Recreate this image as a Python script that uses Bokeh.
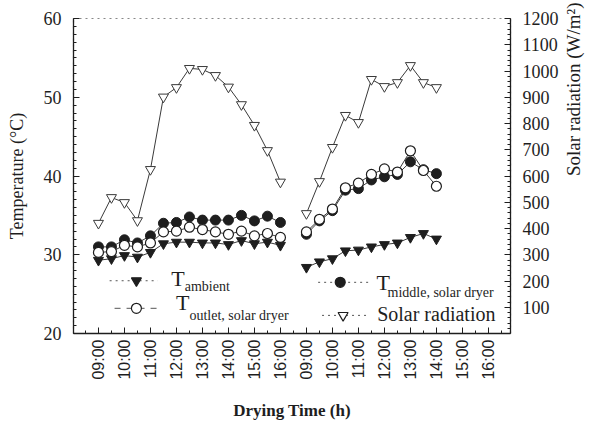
import math
from bokeh.plotting import figure
from bokeh.models import Range1d, LinearAxis, FixedTicker, Label
from bokeh.embed import file_html
from bokeh.resources import INLINE

# ---------------- data ----------------
hour_labels = ["09:00", "10:00", "11:00", "12:00", "13:00", "14:00", "15:00", "16:00"]
axis_tick_labels = hour_labels + hour_labels  # day 1 then day 2

day1_times = ["09:00", "09:30", "10:00", "10:30", "11:00", "11:30", "12:00", "12:30",
              "13:00", "13:30", "14:00", "14:30", "15:00", "15:30", "16:00"]
day2_times = ["09:00", "09:30", "10:00", "10:30", "11:00", "11:30", "12:00", "12:30",
              "13:00", "13:30", "14:00"]

day1_ambient = [29.3, 29.5, 29.9, 29.7, 30.3, 31.4, 31.6, 31.6, 31.5, 31.5, 31.3, 31.8, 31.4, 31.6, 31.2]
day1_middle = [31.0, 31.0, 31.9, 31.5, 32.4, 34.0, 34.1, 34.8, 34.4, 34.4, 34.4, 35.0, 34.3, 34.9, 34.1]
day1_outlet = [30.3, 30.4, 31.2, 31.0, 31.5, 32.9, 33.0, 33.5, 33.2, 32.9, 32.6, 33.0, 32.4, 32.7, 32.2]
day1_solar = [420, 518, 499, 430, 625, 901, 937, 1010, 1006, 983, 939, 872, 793, 697, 577]

day2_ambient = [28.4, 29.1, 29.5, 30.5, 30.6, 31.0, 31.3, 31.5, 32.2, 32.7, 32.0]
day2_middle = [32.6, 34.3, 35.6, 38.2, 38.4, 39.5, 39.9, 40.2, 41.8, 40.8, 40.3]
day2_outlet = [32.9, 34.5, 35.8, 38.5, 39.1, 40.2, 40.9, 40.5, 43.2, 40.7, 38.7]
day2_solar = [457, 579, 709, 831, 804, 968, 941, 956, 1021, 956, 937]


def to_pos(t, day):
    h, m = t.split(":")
    return (day * len(hour_labels)) + (int(h) - 9) + int(m) / 60.0


x1 = [to_pos(t, 0) for t in day1_times]
x2 = [to_pos(t, 1) for t in day2_times]

SERIF = "Liberation Serif"
SANS = "Liberation Sans"
INK = "#1e1e1e"
LINE = "#3a3a3a"

p = figure(width=598, height=422, output_backend="svg", toolbar_location=None,
           x_range=Range1d(-0.96, 15.85), y_range=Range1d(20, 60),
           min_border_left=73, min_border_right=88, min_border_top=18, min_border_bottom=89)
p.extra_y_ranges = {"rad": Range1d(0, 1200)}
p.xgrid.visible = False
p.ygrid.visible = False
p.outline_line_color = "#888888"
p.outline_line_dash = "dotted"
p.outline_line_width = 1.2
p.background_fill_color = "white"
p.border_fill_color = "white"

# x axis
xa = p.xaxis[0]
xa.ticker = FixedTicker(ticks=list(range(len(axis_tick_labels))),
                        minor_ticks=[i * 0.5 - 0.5 for i in range(2 * len(axis_tick_labels) + 2)])
xa.major_label_overrides = {i: lab for i, lab in enumerate(axis_tick_labels)}
xa.major_label_orientation = math.pi / 2
xa.major_label_text_font = SANS
xa.major_label_text_font_size = "16px"
xa.major_label_text_color = INK
xa.major_label_standoff = 6
xa.major_tick_in = 6
xa.major_tick_out = 0
xa.minor_tick_in = 3
xa.minor_tick_out = 0
xa.axis_line_color = INK
xa.axis_line_width = 1.3
xa.major_tick_line_color = INK
xa.minor_tick_line_color = INK
xa.axis_label = "Drying Time (h)"
xa.axis_label_text_font = SERIF
xa.axis_label_text_font_style = "bold"
xa.axis_label_text_font_size = "17px"
xa.axis_label_text_color = INK
xa.axis_label_standoff = 18

# left axis
ya = p.yaxis[0]
ya.ticker = FixedTicker(ticks=[20, 30, 40, 50, 60], minor_ticks=list(range(20, 61)))
ya.major_label_text_font = SERIF
ya.major_label_text_font_size = "18px"
ya.major_label_text_color = INK
ya.major_label_standoff = 12
ya.major_tick_in = 6
ya.major_tick_out = 0
ya.minor_tick_in = 3
ya.minor_tick_out = 0
ya.axis_line_color = INK
ya.axis_line_width = 1.3
ya.major_tick_line_color = INK
ya.minor_tick_line_color = INK
ya.axis_label = "Temperature (\u00b0C)"
ya.axis_label_text_font = SERIF
ya.axis_label_text_font_style = "normal"
ya.axis_label_text_font_size = "18px"
ya.axis_label_text_color = INK
ya.axis_label_standoff = 14

# right axis
ra = LinearAxis(y_range_name="rad",
                ticker=FixedTicker(ticks=list(range(100, 1201, 100)),
                                   minor_ticks=list(range(0, 1201, 20))))
ra.major_label_text_font = SERIF
ra.major_label_text_font_size = "18px"
ra.major_label_text_color = INK
ra.major_label_standoff = 12
ra.major_tick_in = 6
ra.major_tick_out = 0
ra.minor_tick_in = 3
ra.minor_tick_out = 0
ra.axis_line_color = INK
ra.axis_line_width = 1.3
ra.major_tick_line_color = INK
ra.minor_tick_line_color = INK
ra.axis_label = "Solar radiation (W/m\u00b2)"
ra.axis_label_text_font = SERIF
ra.axis_label_text_font_style = "normal"
ra.axis_label_text_font_size = "19px"
ra.axis_label_text_color = INK
ra.axis_label_standoff = 12
ra.axis_label_orientation = math.pi / 2
p.add_layout(ra, "right")

MS = 10

for xs, amb, mid, out, sol in [(x1, day1_ambient, day1_middle, day1_outlet, day1_solar),
                               (x2, day2_ambient, day2_middle, day2_outlet, day2_solar)]:
    # solar radiation (right axis)
    p.line(xs, sol, y_range_name="rad", line_color=LINE, line_width=1)
    p.scatter(xs, sol, y_range_name="rad", marker="inverted_triangle", size=MS,
              fill_color="white", line_color=LINE, line_width=1)
    # temperatures
    p.line(xs, amb, line_color=LINE, line_width=1)
    p.line(xs, out, line_color=LINE, line_width=1)
    p.line(xs, mid, line_color=LINE, line_width=1)
    p.scatter(xs, amb, marker="inverted_triangle", size=MS, fill_color=INK, line_color=INK)
    p.scatter(xs, mid, marker="circle", size=MS, fill_color=INK, line_color=INK)
    p.scatter(xs, out, marker="circle", size=MS, fill_color="white", line_color=INK, line_width=1.2)

# ---------------- legend (manual, with subscripts) ----------------
def leg_sample(xa_, xb, xm, y, dash, marker, fill):
    p.line([xa_, xb], [y, y], line_color="#555555", line_width=1, line_dash=dash)
    p.scatter([xm], [y], marker=marker, size=MS, fill_color=fill, line_color=INK, line_width=1.2)

def leg_text(x, y, text, size):
    p.add_layout(Label(x=x, y=y, text=text, text_font=SERIF, text_font_size=size,
                       text_color=INK, text_align="left", text_baseline="middle"))

leg_sample(0.43, 2.28, 1.46, 26.7, "dotted", "inverted_triangle", INK)
leg_text(2.80, 27.0, "T", "22px")
leg_text(3.32, 26.0, "ambient", "14px")

leg_sample(0.62, 2.24, 1.46, 23.2, "dashed", "circle", "white")
leg_text(2.98, 24.0, "T", "22px")
leg_text(3.50, 22.3, "outlet, solar dryer", "14px")

leg_sample(8.45, 10.38, 9.30, 26.5, "dotted", "circle", INK)
leg_text(10.70, 26.5, "T", "22px")
leg_text(11.12, 25.2, "middle, solar dryer", "14px")

leg_sample(8.60, 10.38, 9.41, 22.3, "dotted", "inverted_triangle", "white")
leg_text(10.72, 22.5, "Solar radiation", "20px")

open("out.html", "w").write(file_html(p, INLINE))
